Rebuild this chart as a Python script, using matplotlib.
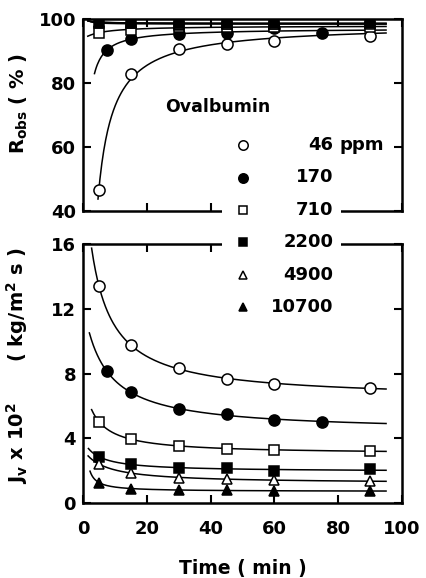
import numpy as np
import matplotlib.pyplot as plt

plt.rcParams['font.family'] = ['DejaVu Sans']
plt.rcParams['font.weight'] = 'bold'
plt.rcParams['mathtext.default'] = 'bf'

# sampling times (min)
t_std = [5, 15, 30, 45, 60, 90]
t_170 = [7.5, 15, 30, 45, 60, 75]

labels = ['46', '170', '710', '2200', '4900', '10700']

# observed rejection (%)
r_46 = [46.5, 82.6, 90.5, 92.2, 93.1, 94.6]
r_170 = [90.1, 93.7, 95.2, 95.5, 97.0, 95.6]
r_710 = [95.6, 96.5, 97.3, 97.3, 97.4, 97.4]
r_2200 = [98.6, 98.5, 98.0, 98.3, 98.2, 98.5]
r_4900 = [98.9, 98.7, 98.4, 98.2, 98.4, 98.4]
r_10700 = [98.8, 98.6, 98.6, 98.5, 98.6, 98.6]

# permeate flux (kg/m2 s, x 10^2)
j_46 = [13.41, 9.74, 8.35, 7.67, 7.38, 7.11]
j_170 = [8.14, 6.84, 5.81, 5.52, 5.15, 5.04]
j_710 = [5.04, 3.95, 3.56, 3.37, 3.29, 3.22]
j_2200 = [2.87, 2.42, 2.15, 2.19, 2.00, 2.09]
j_4900 = [2.42, 1.88, 1.59, 1.47, 1.43, 1.38]
j_10700 = [1.28, 0.91, 0.81, 0.81, 0.76, 0.76]

times = [t_std, t_170, t_std, t_std, t_std, t_std]
rejection = [r_46, r_170, r_710, r_2200, r_4900, r_10700]
flux = [j_46, j_170, j_710, j_2200, j_4900, j_10700]

# marker style per concentration
styles = [
    dict(marker='o', mfc='white', ms=8),
    dict(marker='o', mfc='black', ms=8),
    dict(marker='s', mfc='white', ms=6.5),
    dict(marker='s', mfc='black', ms=6.5),
    dict(marker='^', mfc='white', ms=7.5),
    dict(marker='^', mfc='black', ms=7.5),
]
# where each smooth curve begins
r_start = [4.7, 3.6, 1.5, 1.5, 1.5, 1.5]
j_start = [2.7, 2.0, 2.7, 1.7, 1.6, 2.2]


def smooth_fit(t, y, t_first, t_last=95):
    """least squares fit of y = a + b/(t + t0), scanning t0"""
    t = np.asarray(t, float)
    y = np.asarray(y, float)
    best = None
    for t0 in np.arange(0.0, 40.0, 0.05):
        X = np.column_stack([np.ones_like(t), 1.0 / (t + t0)])
        coef = np.linalg.lstsq(X, y, rcond=None)[0]
        sse = np.sum((X @ coef - y) ** 2)
        if best is None or sse < best[0]:
            best = (sse, t0, coef)
    _, t0, (a, b) = best
    tt = np.linspace(t_first, t_last, 300)
    return tt, a + b / (tt + t0)


def style_axes(ax):
    ax.set_xlim(0, 100)
    ax.set_xticks([0, 20, 40, 60, 80, 100])
    ax.tick_params(direction='in', length=5.5, width=1.5, top=True, right=True,
                   labelsize=13, pad=5)
    ax.tick_params(axis='x', pad=12)
    for sp in ax.spines.values():
        sp.set_linewidth(1.8)


fig = plt.figure(figsize=(4.27, 5.78), dpi=100)
ax_r = fig.add_axes([83 / 427, 1 - 211 / 578, 319 / 427, 192.5 / 578])
ax_j = fig.add_axes([83 / 427, 1 - 503.3 / 578, 319 / 427, 259.3 / 578])

for t, r, j, st, rs, js in zip(times, rejection, flux, styles, r_start, j_start):
    tt, rr = smooth_fit(t, r, rs)
    ax_r.plot(tt, rr, color='black', lw=1.1, zorder=2)
    ax_r.plot(t, r, ls='none', mec='black', mew=1.1, zorder=3, **st)
    tt, jj = smooth_fit(t, j, js)
    ax_j.plot(tt, jj, color='black', lw=1.1, zorder=2)
    ax_j.plot(t, j, ls='none', mec='black', mew=1.1, zorder=3, **st)

style_axes(ax_r)
ax_r.set_ylim(40, 100)
ax_r.set_yticks([40, 60, 80, 100])
ax_r.tick_params(axis='x', labelbottom=False)
ax_r.set_ylabel(r'R$_{obs}$ ( % )', fontsize=14, fontweight='bold')
ax_r.yaxis.set_label_coords(-0.165, 0.56)
ax_r.text(0.423, 0.542, 'Ovalbumin', transform=ax_r.transAxes, ha='center',
          va='center', fontsize=12.5, fontweight='bold')

style_axes(ax_j)
ax_j.set_ylim(0, 16)
ax_j.set_yticks([0, 4, 8, 12, 16])
ax_j.set_xlabel('Time ( min )', fontsize=13.5, fontweight='bold', labelpad=15)
ax_j.set_ylabel(r'J$_v$ x 10$^2$      ( kg/m$^2$ s )', fontsize=14,
                fontweight='bold')
ax_j.yaxis.set_label_coords(-0.165, 0.533)

# key box sitting across the gap between the two panels
key = fig.add_axes([222 / 427, 1 - 323 / 578, 119 / 427, 194 / 578])
key.set_facecolor('white')
key.set_xlim(0, 1)
key.set_ylim(5.5, -0.5)
key.set_xticks([])
key.set_yticks([])
for sp in key.spines.values():
    sp.set_visible(False)
for i, (lab, st) in enumerate(zip(labels, styles)):
    kst = dict(st)
    kst['ms'] = st['ms'] * 0.85
    key.plot([0.176], [i], ls='none', mec='black', mew=1.1, **kst)
    key.text(0.935, i, lab, ha='right', va='center', fontsize=13,
             fontweight='bold')
key.text(0.99, 0, 'ppm', ha='left', va='center', fontsize=13,
         fontweight='bold', clip_on=False)

fig.savefig('out.png', dpi=100)
